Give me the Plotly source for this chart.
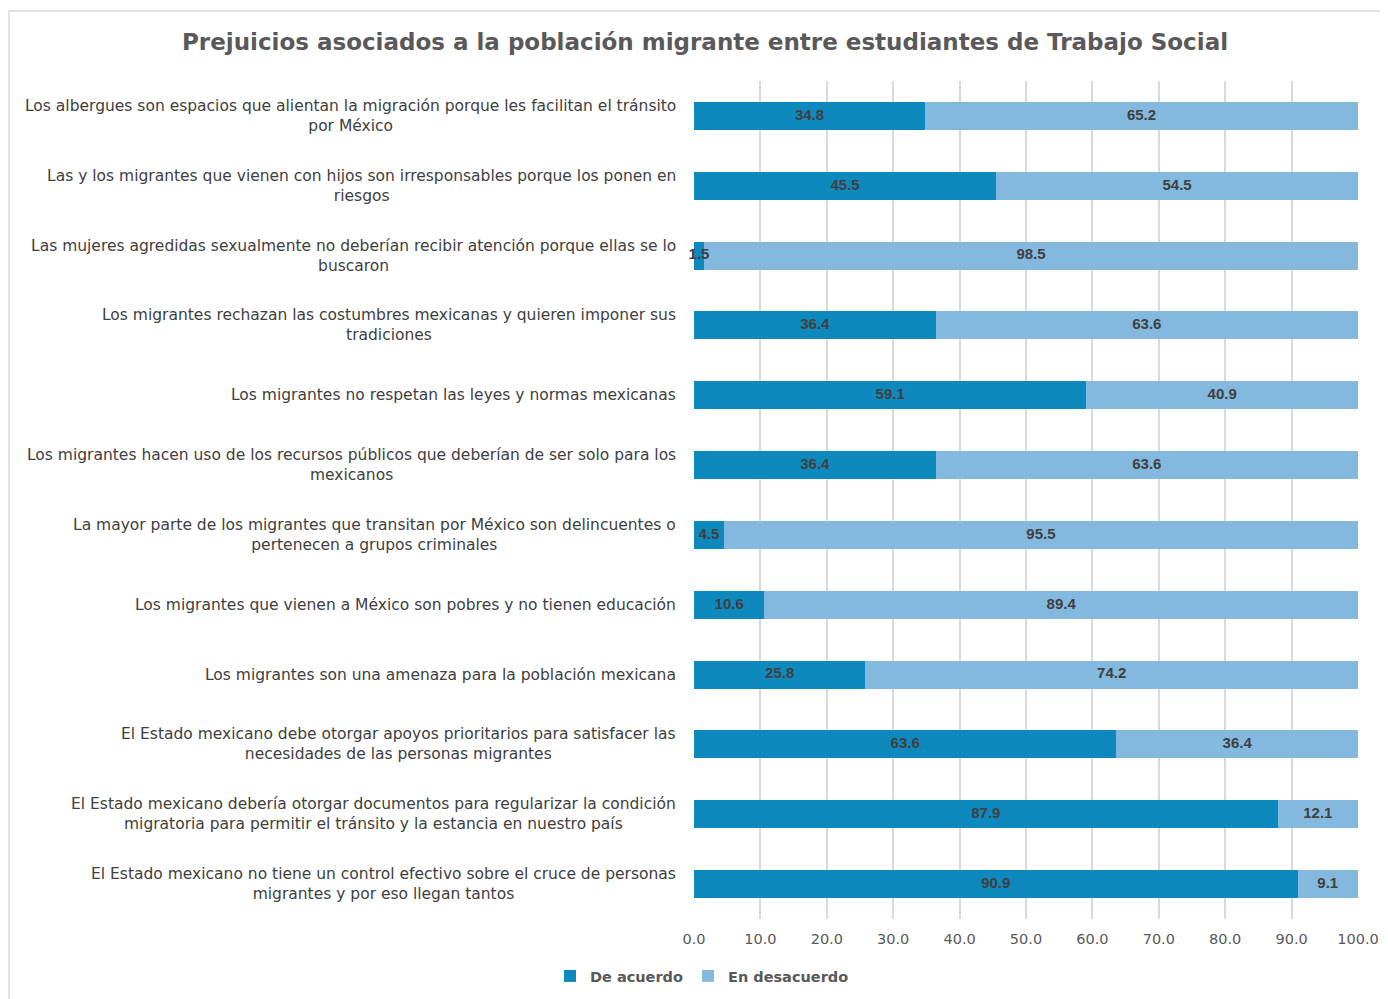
import plotly.graph_objects as go

categories = [
    "Los albergues son espacios que alientan la migración porque les facilitan el tránsito<br>por México",
    "Las y los migrantes que vienen con hijos son irresponsables porque los ponen en<br>riesgos",
    "Las mujeres agredidas sexualmente no deberían recibir atención porque ellas se lo<br>buscaron",
    "Los migrantes rechazan las costumbres mexicanas y quieren imponer sus<br>tradiciones",
    "Los migrantes no respetan las leyes y normas mexicanas",
    "Los migrantes hacen uso de los recursos públicos que deberían de ser solo para los<br>mexicanos",
    "La mayor parte de los migrantes que transitan por México son delincuentes o<br>pertenecen a grupos criminales",
    "Los migrantes que vienen a México son pobres y no tienen educación",
    "Los migrantes son una amenaza para la población mexicana",
    "El Estado mexicano debe otorgar apoyos prioritarios para satisfacer las<br>necesidades de las personas migrantes",
    "El Estado mexicano debería otorgar documentos para regularizar la condición<br>migratoria para permitir el tránsito y la estancia en nuestro país",
    "El Estado mexicano no tiene un control efectivo sobre el cruce de personas<br>migrantes y por eso llegan tantos",
]
de_acuerdo = [34.8, 45.5, 1.5, 36.4, 59.1, 36.4, 4.5, 10.6, 25.8, 63.6, 87.9, 90.9]
en_desacuerdo = [65.2, 54.5, 98.5, 63.6, 40.9, 63.6, 95.5, 89.4, 74.2, 36.4, 12.1, 9.1]
x_ticks = [0, 10, 20, 30, 40, 50, 60, 70, 80, 90, 100]
series_names = ["De acuerdo", "En desacuerdo"]
colors = ["#0E89BD", "#84B9DF"]

WIDE = "DejaVu Sans, Verdana, sans-serif"
NARROW = "Liberation Sans, Arial, sans-serif"
ids = list(range(len(categories)))

fig = go.Figure()
for name, vals, col in zip(series_names, [de_acuerdo, en_desacuerdo], colors):
    fig.add_trace(go.Bar(
        y=ids, x=vals, name=name, orientation="h",
        marker=dict(color=col, line=dict(width=0)),
        hoverinfo="x+name",
    ))

# data labels drawn on top of all bars (centred in each segment)
for vals, base in [(de_acuerdo, [0] * len(ids)), (en_desacuerdo, de_acuerdo)]:
    fig.add_trace(go.Scatter(
        x=[b + v / 2 for b, v in zip(base, vals)], y=ids,
        mode="text", text=[f"{v:.1f}" for v in vals],
        textposition="middle center",
        textfont=dict(family=NARROW, size=15, color="#404040", weight="bold"),
        showlegend=False, hoverinfo="skip", cliponaxis=False,
    ))

annotations = []
for i, c in zip(ids, categories):
    annotations.append(dict(
        x=0, xref="paper", y=i, yref="y", text=c, showarrow=False,
        xanchor="right", yanchor="middle", align="center", xshift=-16,
        font=dict(family=WIDE, size=15.5, color="#404040"),
    ))

# page shows the figure offset by 8px (body margin)
W, H = 1380, 991
L, R, T, B = 686, 30, 73, 80
pw, ph = W - L - R, H - T - B
def px(x):
    return (x - L) / pw
def py(y):
    return (H - B - y) / ph

fig.update_layout(
    width=W, height=H,
    margin=dict(l=L, r=R, t=T, b=B, autoexpand=False),
    paper_bgcolor="white", plot_bgcolor="white",
    barmode="stack", bargap=0.6,
    title=dict(
        text="<b>Prejuicios asociados a la población migrante entre estudiantes de Trabajo Social</b>",
        x=697 / W, xanchor="center", y=1 - 34 / H, yanchor="middle", yref="container",
        font=dict(family=WIDE, size=23, color="#595959"),
    ),
    xaxis=dict(
        range=[0, 100], tickvals=x_ticks, tickformat=".1f",
        showgrid=True, gridcolor="#D9D9D9", gridwidth=1.5, zeroline=False,
        showline=False, ticks="", ticklabelstandoff=9,
        tickfont=dict(family=WIDE, size=14.5, color="#595959"),
    ),
    yaxis=dict(
        tickvals=ids, range=[len(categories) - 0.5, -0.5],
        showticklabels=False, showgrid=False, zeroline=False, showline=False,
    ),
    legend=dict(
        orientation="h", x=px(542), xanchor="left", y=py(968), yanchor="middle",
        font=dict(family=WIDE, size=14.5, color="#595959", weight="bold"),
        itemwidth=30, tracegroupgap=0, traceorder="normal",
    ),
    annotations=annotations,
    shapes=[dict(
        type="rect", xref="paper", yref="paper",
        x0=px(1), x1=px(1420), y0=py(1030), y1=py(3),
        line=dict(color="#D9D9D9", width=1.5), layer="below",
    )],
    showlegend=True,
)

fig.write_html("out.html")
